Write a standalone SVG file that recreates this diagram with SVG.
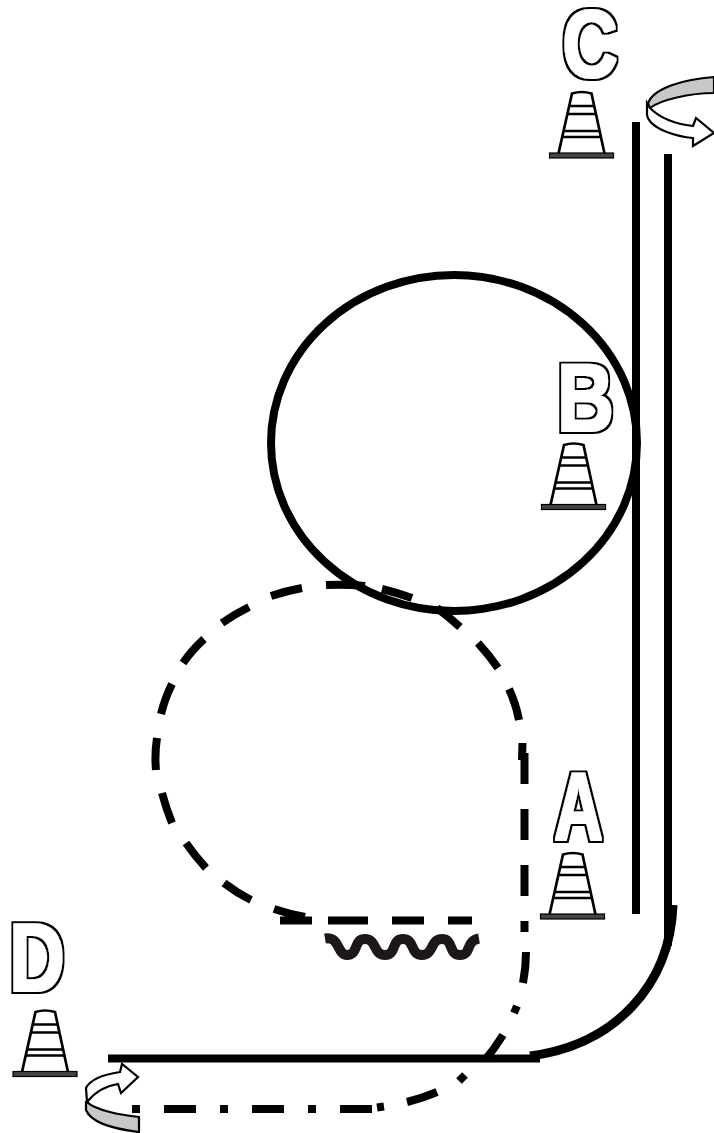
<svg xmlns="http://www.w3.org/2000/svg" width="714" height="1133" viewBox="0 0 714 1133">
<style>
.solid{fill:none;stroke:#000;stroke-width:8}
.dash{fill:none;stroke:#000;stroke-width:8}
.outlined{filter:url(#hollow)}
.letter{font-family:"Liberation Sans",Arial,sans-serif;font-weight:bold;font-size:96px;fill:#000;text-anchor:middle}
.band{fill:#c8c8c8;stroke:#000;stroke-width:2.2}
.arrow{fill:#fff;stroke:#000;stroke-width:2.2;stroke-linejoin:miter}
</style>
<defs>
<filter id="hollow" filterUnits="userSpaceOnUse" x="0" y="0" width="714" height="1133">
<feMorphology in="SourceAlpha" operator="dilate" radius="2.600" result="outer"/>
<feFlood flood-color="#000" result="k"/>
<feComposite in="k" in2="outer" operator="in" result="ko"/>
<feMorphology in="SourceAlpha" operator="dilate" radius="0.800" result="inner"/>
<feFlood flood-color="#fff" result="w"/>
<feComposite in="w" in2="inner" operator="in" result="wo"/>
<feMerge><feMergeNode in="ko"/><feMergeNode in="wo"/></feMerge>
</filter>
<g id="cone">
<path d="M-23-2L-9.500-62Q0-65 10-62L23-2" fill="none" stroke="#000" stroke-width="2.700"/>
<path d="M-12.500-49.500H12.500M-14.300-41.500H14.300M-18-24.500H18M-19.300-18.500H19.300" fill="none" stroke="#000" stroke-width="2.500"/>
<rect x="-32" y="-2.500" width="64" height="5" fill="#444" stroke="#000" stroke-width="1.200"/>
</g>
</defs>
<g id="connectors">
<ellipse class="solid" cx="454" cy="443" rx="183" ry="168"/>
<path class="solid" d="M636 122V914M668 154V946M108 1058.500H540"/>
<path d="M673 905C670 985 615 1045 530 1056" fill="none" stroke="#000" stroke-width="9"/>
<path class="dash" d="M156 770Q154.500 754 157 738M161 714Q165 698 172 684M183 663Q192 650 204 639M222 623Q235 614 249 607M271 596Q286 591 302 588M326 585Q345 584 365 586M382 589Q398 593 412 598M437 608Q449 617 460 627M478 643Q489 655 498 668M509 689Q516 704 519 720M522.500 743L522 760"/>
<path class="dash" d="M162 793Q166 808 172 823M186 843Q195 856 206 868M224 883Q237 893 251 900M274 909Q289 914 305 917M280 920.500H312M328 920.500H368M392 920.500H424M448 920.500H472"/>
<path class="dash" d="M524.500 753V784M524.500 809V840M524.500 865V896M524.500 921V932M526 952Q526 968 523 983M517 1006L514 1013M503 1035Q495 1048 485 1060M465 1075L459 1081M437 1092Q423 1098 407 1102M377 1107.500L384 1106.500M372 1109H340M316 1109H308M284 1109H252M228 1109H220M196 1109H164M140 1109H132"/>
<path id="wave" d="M325 938.500C340 936 337 955 347 955C359 955 353 939 365 939C377 939 373 955 385 955C397 955 391 939 403 939C415 939 410 955 422 955C434 955 430 939 442 939C454 939 448 955 460 955C472 955 465 941 479 938.500" fill="none" stroke="#1c1818" stroke-width="10"/>
</g>
<g id="node-a">
<g class="outlined"><text class="letter" transform="translate(578.500 839.500) scale(.7 1)">A</text></g>
<use href="#cone" x="572.500" y="916.500"/>
</g>
<g id="node-b">
<g class="outlined"><text class="letter" transform="translate(585.500 430.500) scale(.82 1)">B</text></g>
<use href="#cone" x="573.500" y="507"/>
</g>
<g id="node-c">
<g class="outlined"><text class="letter" transform="translate(590 76.500) scale(.8 1)">C</text></g>
<use href="#cone" x="581.500" y="155.500"/>
<path class="band" d="M648 104C652 88 685 79 714 77V93C690 93 660 100 650 108Z"/>
<path class="arrow" d="M647 103V115C650 130 680 137 693 138V146L714 133L696 118L693 126C675 124 660 118 650 108Z"/>
</g>
<g id="node-d">
<g class="outlined"><text class="letter" transform="translate(37 990.500) scale(.8 1)">D</text></g>
<use href="#cone" x="45" y="1074"/>
<path class="band" d="M86 1102V1110C90 1120 105 1128 139 1132V1117C120 1115 95 1110 87 1102Z"/>
<path class="arrow" d="M87 1102L86 1088C90 1080 100 1075 120 1072L122 1064L138 1077L121 1093L118 1084C105 1086 95 1092 87 1102Z"/>
</g>
</svg>
